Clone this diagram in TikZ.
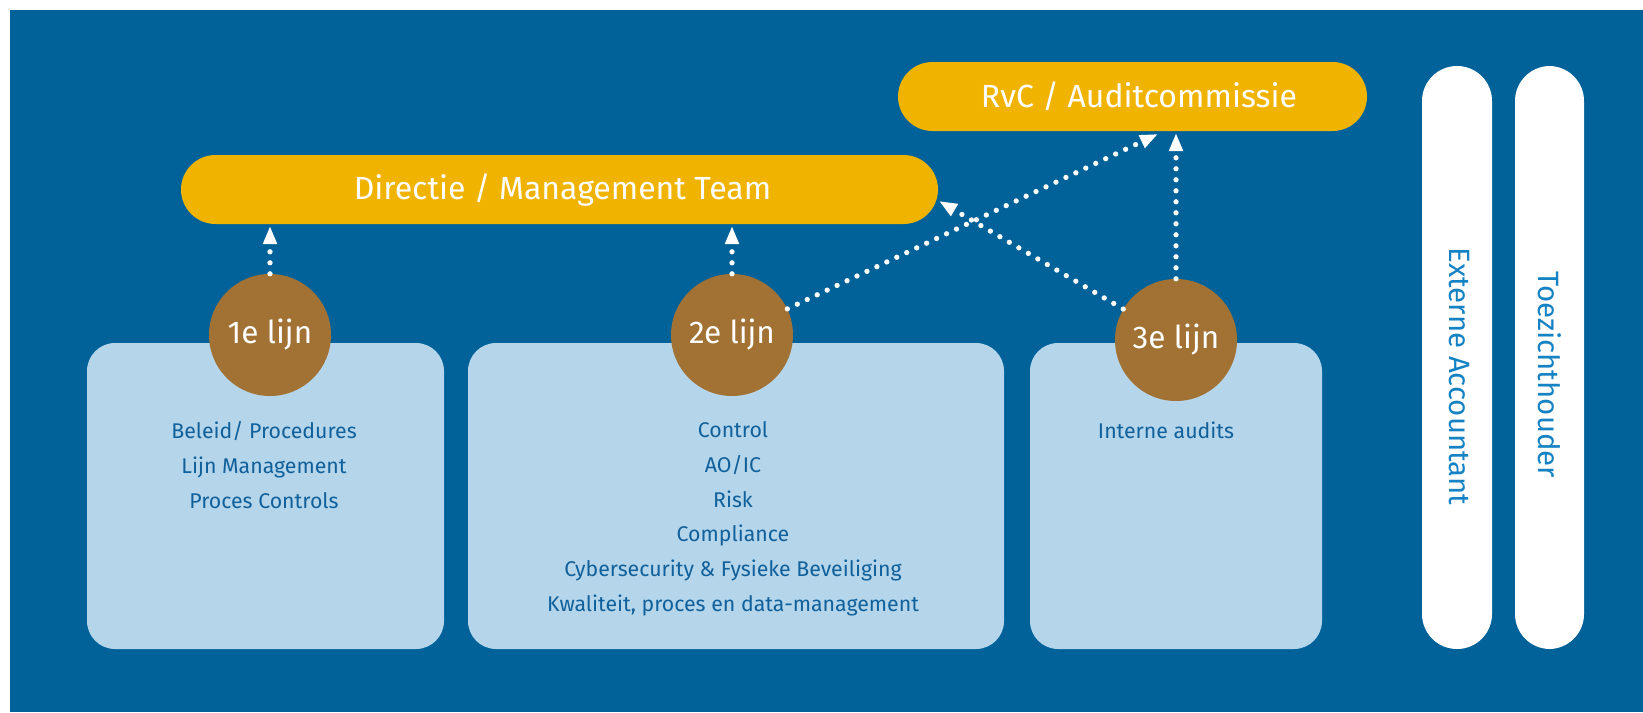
\documentclass[tikz,border=0pt]{standalone}
\usepackage{fontspec}
\usepackage{graphicx}
\setmainfont{Fira Sans}
\usetikzlibrary{arrows.meta}
\definecolor{bgblue}{RGB}{0,98,153}
\definecolor{gold}{RGB}{240,179,0}
\definecolor{bronze}{RGB}{161,114,52}
\definecolor{paleblue}{RGB}{180,213,234}
\definecolor{textblue}{RGB}{16,96,155}
\definecolor{vtext}{RGB}{20,130,195}
\begin{document}
\begin{tikzpicture}[x=1pt,y=-1pt,
  pill/.style={fill=gold, text=white, inner sep=0pt, rounded corners=34.5pt,
    minimum height=69pt, font=\fontsize{32}{38}\selectfont},
  box/.style={fill=paleblue, inner sep=0pt, rounded corners=28pt, minimum height=306pt},
  vpill/.style={fill=white, inner sep=0pt, rounded corners=35pt, minimum height=583pt},
  lijn/.style={circle, fill=bronze, text=white, inner sep=0pt, minimum size=122pt,
    font=\fontsize{31.5}{36}\selectfont},
  boxtext/.style={anchor=north, inner sep=0pt, align=center, text=textblue,
    font=\fontsize{21.3}{34.7}\selectfont},
  vlabel/.style={rotate=-90, inner sep=0pt, text=vtext, font=\fontsize{29.4}{34}\selectfont},
  dotline/.style={white, line width=5.3pt, line cap=round, dash pattern=on 0pt off 11pt,
    -{Triangle[width=13pt,length=18pt]}}
]
\useasboundingbox (0,0) rectangle (1643,712);
\fill[bgblue] (10,10) rectangle (1643,712);

% pills
\node[pill, minimum width=757pt] (dir) at (559.5,189.5) {\hspace*{6pt}Directie / Management Team};
\node[pill, minimum width=469pt] (rvc) at (1132.5,96.5) {\hspace*{13pt}RvC / Auditcommissie};

% boxes
\node[box, minimum width=357pt] (b1) at (265.5,496) {};
\node[box, minimum width=536pt] (b2) at (736,496) {};
\node[box, minimum width=292pt] (b3) at (1176,496) {};

\node[boxtext] (t1) at (264,421.5) {Beleid/ Procedures\\Lijn Management\\Proces Controls};
\node[boxtext] (t2) at (733,421.5) {Control\\AO/IC\\Risk\\Compliance\\Cybersecurity \& Fysieke Beveiliging\\Kwaliteit, proces en data-management};
\node[boxtext] (t3) at (1166,421.5) {Interne audits};

% vertical pills
\node[vpill, minimum width=70pt] (ea) at (1457,357.5) {};
\node[vpill, minimum width=69pt] (tz) at (1549.5,357.5) {};
\node[vlabel] (eal) at (1459,376.5) {Externe Accountant};
\node[vlabel] (tzl) at (1550,375) {Toezichthouder};

% circles
\node[lijn] (c1) at (270,335) {1e lijn};
\node[lijn] (c2) at (732,335) {2e lijn};
\node[lijn] (c3) at (1176,340) {3e lijn};

% arrow ends
\coordinate (e1) at (270,226);
\coordinate (e2) at (732,226);
\coordinate (e3) at (1158,134);
\coordinate (e4) at (939,201);
\coordinate (e5) at (1176,133);

\draw[dotline] (c1) -- (e1);
\draw[dotline] (c2) -- (e2);
\draw[dotline] (c2) -- (e3);
\draw[dotline] (c3) -- (e4);
\draw[dotline] (c3) -- (e5);
\end{tikzpicture}
\end{document}
